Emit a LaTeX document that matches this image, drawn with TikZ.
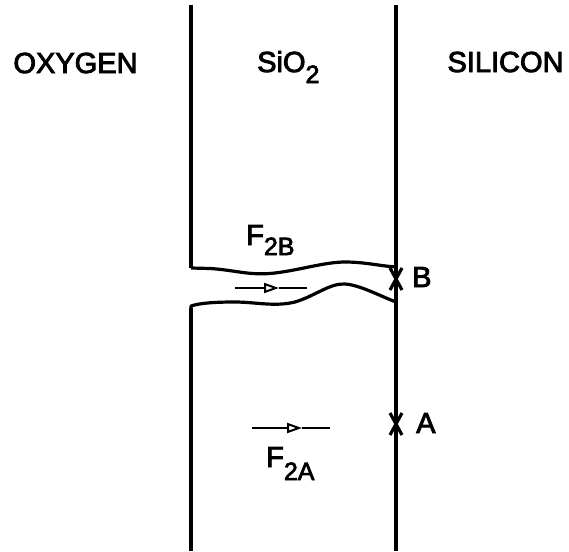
\documentclass[tikz,border=0pt]{standalone}
\usepackage{fontspec}
\setmainfont{Liberation Sans}[FakeBold=3]
\usetikzlibrary{arrows.meta,calc}
\begin{document}
\begin{tikzpicture}[x=1pt,y=-1pt,
  wall/.style={line width=3.4pt},
  crack/.style={line width=3.2pt,line join=round},
  force/.style={line width=2.2pt},
  forcetip/.style={line width=2.2pt,-{Triangle[open,length=15pt,width=10pt,line width=2pt]}},
  xmark/.style={line width=3.2pt},
  lbl/.style={inner sep=0pt,font=\fontsize{29}{31}\selectfont},
]
\useasboundingbox (0,0) rectangle (569,551);
% region labels
\node[lbl,anchor=base] (oxy) at (75.5,73) {OXYGEN};
\node[lbl,anchor=base west] (sio) at (257,72) {SiO\raisebox{-11pt}{\fontsize{25}{27}\selectfont 2}};
\node[lbl,anchor=base] (si) at (505.5,72) {SILICON};
% walls
\coordinate (lt) at (191,5);
\coordinate (lm1) at (191,268);
\coordinate (lm2) at (191,308);
\coordinate (lb) at (191,551);
\coordinate (rt) at (396,5);
\coordinate (rb) at (396,551);
\draw[wall] (lt) -- (lm1);
\draw[wall] (lm2) -- (lb);
\draw[wall] (rt) -- (rb);
% crack
\draw[crack] (lm1) -- (210,268.5) .. controls (235,270) and (250,276) .. (275,273)
   .. controls (300,270) and (325,262) .. (345,262)
   .. controls (365,262) and (380,266) .. (396,267);
\draw[crack] (lm2) -- (191,306) .. controls (200,303) and (215,302) .. (235,302)
   .. controls (255,302) and (275,307) .. (295,302)
   .. controls (315,296) and (330,283) .. (345,284)
   .. controls (360,285) and (380,296) .. (396,302);
% force in crack
\coordinate (fb1) at (235,288);
\coordinate (fbm) at (279,288);
\coordinate (fb2) at (307,288);
\draw[forcetip] (fb1) -- (fbm);
\draw[force] (fbm) -- (fb2);
\node[lbl,anchor=base west] (f2b) at (246,245) {F\raisebox{-10pt}{\fontsize{25}{27}\selectfont 2B}};
% force in oxide
\coordinate (fa1) at (252,428);
\coordinate (fam) at (302,428);
\coordinate (fa2) at (330,428);
\draw[forcetip] (fa1) -- (fam);
\draw[force] (fam) -- (fa2);
\node[lbl,anchor=base west] (f2a) at (266,467) {F\raisebox{-13pt}{\fontsize{25}{27}\selectfont 2A}};
% points B and A
\coordinate (B) at (396,279);
\coordinate (A) at (396,424);
\draw[xmark] ($(B)+(-6,-11)$) -- ($(B)+(6,11)$) ($(B)+(6,-11)$) -- ($(B)+(-6,11)$);
\draw[xmark] ($(A)+(-6,-11)$) -- ($(A)+(6,11)$) ($(A)+(6,-11)$) -- ($(A)+(-6,11)$);
\node[lbl,anchor=base west] (lB) at (412,287) {B};
\node[lbl,anchor=base west] (lA) at (416,433) {A};
\end{tikzpicture}
\end{document}
